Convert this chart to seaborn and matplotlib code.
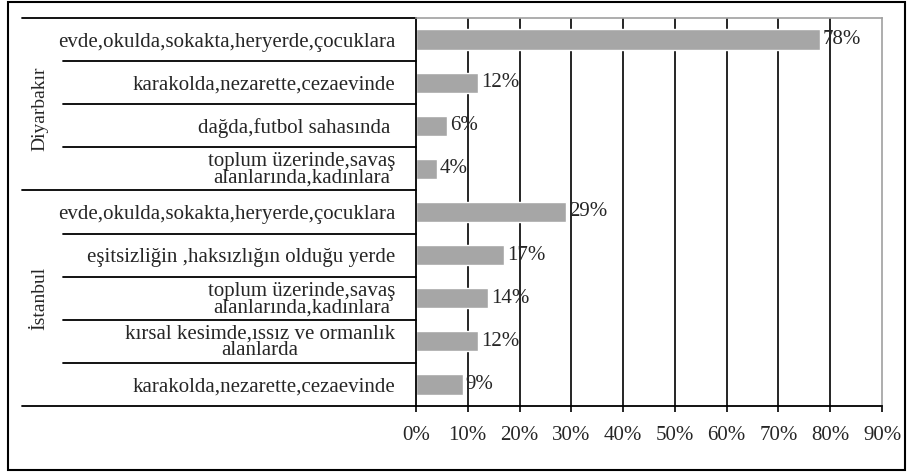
import pandas as pd
import matplotlib.pyplot as plt
import matplotlib.transforms as mtransforms
from matplotlib.patches import Rectangle
import seaborn as sns

# data, top to bottom
groups = ['Diyarbakır', 'Diyarbakır', 'Diyarbakır', 'Diyarbakır',
          'İstanbul', 'İstanbul', 'İstanbul', 'İstanbul', 'İstanbul']
places = ['evde,okulda,sokakta,heryerde,çocuklara',
          'karakolda,nezarette,cezaevinde',
          'dağda,futbol sahasında ',
          'toplum üzerinde,savaş\nalanlarında,kadınlara',
          'evde,okulda,sokakta,heryerde,çocuklara',
          'eşitsizliğin ,haksızlığın olduğu yerde',
          'toplum üzerinde,savaş\nalanlarında,kadınlara',
          'kırsal kesimde,ıssız ve ormanlık\nalanlarda',
          'karakolda,nezarette,cezaevinde']
percent = [78, 12, 6, 4, 29, 17, 14, 12, 9]
x_ticks = [0, 10, 20, 30, 40, 50, 60, 70, 80, 90]

df = pd.DataFrame({'group': groups, 'place': places, 'percent': percent})
df['key'] = df['group'] + '|' + df.index.astype(str)

sns.set_style('white')
plt.rcParams['font.family'] = ['Liberation Serif', 'DejaVu Serif']
fs = 15

W, H = 907, 472
fig = plt.figure(figsize=(W / 100, H / 100), dpi=100)
ax = fig.add_axes([416 / W, 1 - 406 / H, (882 - 416) / W, (406 - 18) / H])

sns.barplot(data=df, x='percent', y='key', color='#a6a6a6', saturation=1,
            width=0.47, ax=ax)
ax.bar_label(ax.containers[0], labels=[f'{v}%' for v in percent],
             padding=2, fontsize=fs)

ax.set_xlim(0, 90)
ax.set_ylim(len(df) - 0.5, -0.5)
ax.set_xlabel('')
ax.set_ylabel('')

# x axis
ax.set_xticks(x_ticks)
ax.set_xticklabels([f'{t}%' for t in x_ticks], fontsize=fs)
ax.tick_params(axis='x', direction='out', length=4.5, width=1.2,
               color='black', pad=10, bottom=True)
for t in x_ticks[1:-1]:
    ax.axvline(t, color='black', lw=1.2, zorder=0)

# y labels
ax.set_yticks(range(len(df)))
ax.set_yticklabels(places, fontsize=fs)
ax.tick_params(axis='y', length=0, pad=15)
for lbl in ax.get_yticklabels():
    lbl.set_multialignment('center')
    lbl.set_linespacing(0.82)

for side in ['left', 'bottom']:
    ax.spines[side].set_color('black')
    ax.spines[side].set_linewidth(1.3)
for side in ['top', 'right']:
    ax.spines[side].set_color('#a0a0a0')
    ax.spines[side].set_linewidth(1.2)

# category table lines on the left
trans = mtransforms.blended_transform_factory(fig.transFigure, ax.transData)
for yb in [-0.5, 3.5, 8.5]:
    ax.plot([22 / W, 416 / W], [yb, yb], color='black', lw=1.3,
            transform=trans, clip_on=False)
for yb in [0.5, 1.5, 2.5, 4.5, 5.5, 6.5, 7.5]:
    ax.plot([63 / W, 416 / W], [yb, yb], color='black', lw=1.3,
            transform=trans, clip_on=False)

ax.text(40 / W, 1.6, 'Diyarbakır', rotation=90, ha='center', va='center',
        fontsize=14, transform=trans)
ax.text(40 / W, 6.0, 'İstanbul', rotation=90, ha='center', va='center',
        fontsize=14, transform=trans)

# outer frame
fig.add_artist(Rectangle((8 / W, 1 - 470 / H), (905 - 8) / W, (470 - 2) / H,
                         transform=fig.transFigure, fill=False,
                         edgecolor='black', lw=1.5))

fig.savefig('out.png', dpi=100)
